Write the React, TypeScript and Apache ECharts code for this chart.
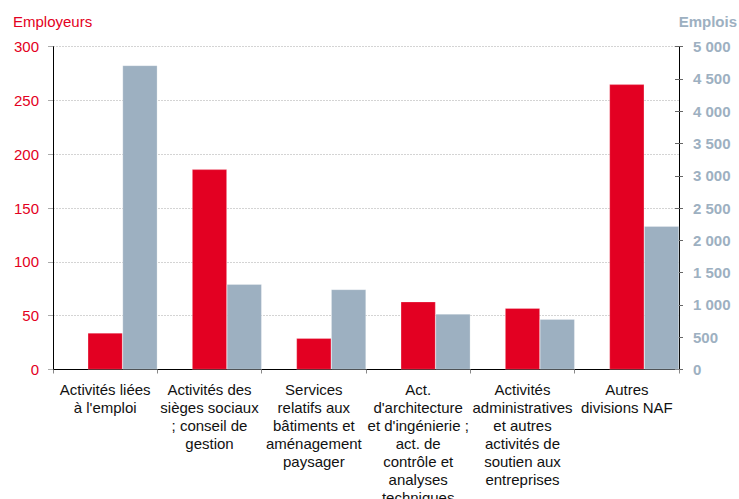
import React, { useEffect, useRef } from "react";
import * as echarts from "echarts";

const categories = [
  "Activités liées\nà l'emploi",
  "Activités des\nsièges sociaux\n; conseil de\ngestion",
  "Services\nrelatifs aux\nbâtiments et\naménagement\npaysager",
  "Act.\nd'architecture\net d'ingénierie ;\nact. de\ncontrôle et\nanalyses\ntechniques",
  "Activités\nadministratives\net autres\nactivités de\nsoutien aux\nentreprises",
  "Autres\ndivisions NAF",
];
const employeurs = [34, 186, 29, 63, 57, 265];
const emplois = [4710, 1320, 1240, 860, 780, 2220];
const spacer = [null, null, null, null, null, null];

const RED = "#E30022";
const GREY = "#9DB0C1";
const FONT = "'Liberation Sans', Arial, Helvetica, sans-serif";

export default function App() {
  const ref = useRef<HTMLDivElement>(null);
  useEffect(() => {
    if (!ref.current) return;
    const chart = echarts.init(ref.current, null, { renderer: "svg" });
    chart.setOption({
      animation: false,
      textStyle: { fontFamily: FONT },
      grid: {
        left: 53,
        right: 60,
        top: 46.7,
        height: 322.8,
        containLabel: false,
        outerBoundsMode: "none",
      },
      xAxis: {
        type: "category",
        data: categories,
        axisLine: { show: true, lineStyle: { color: "#000", width: 1 } },
        axisTick: { show: true, length: 4, lineStyle: { color: "#888" } },
        axisLabel: {
          interval: 0,
          color: "#111",
          fontSize: 15,
          lineHeight: 18,
          margin: 11,
          fontFamily: FONT,
          align: "center",
        },
      },
      yAxis: [
        {
          type: "value",
          min: 0,
          max: 300,
          interval: 50,
          position: "left",
          axisLine: { show: true, lineStyle: { color: "#000", width: 1 } },
          axisTick: { show: true, length: 5, lineStyle: { color: "#aaa" } },
          axisLabel: { color: RED, fontSize: 15, margin: 14, fontFamily: FONT },
          splitLine: { show: true, lineStyle: { color: "#d4d4d4", type: [2, 1], width: 1 } },
        },
        {
          type: "value",
          min: 0,
          max: 5000,
          interval: 500,
          position: "right",
          axisLine: { show: true, lineStyle: { color: "#000", width: 1 } },
          axisTick: { show: true, length: 4, lineStyle: { color: "#666" } },
          axisLabel: {
            color: GREY,
            fontSize: 15,
            fontWeight: "bold",
            margin: 14,
            fontFamily: FONT,
            formatter: (v: number) => String(v).replace(/\B(?=(\d{3})+(?!\d))/g, " "),
          },
          splitLine: { show: false },
        },
        {
          type: "value",
          min: 0,
          max: 5000,
          interval: 500,
          position: "right",
          axisLine: { show: false },
          axisTick: { show: true, inside: true, length: 4, lineStyle: { color: "#666" } },
          axisLabel: { show: false },
          splitLine: { show: false },
        },
      ],
      series: [
        {
          type: "bar",
          name: "spacer",
          data: spacer,
          yAxisIndex: 0,
          barGap: "0%",
          barCategoryGap: "0%",
          itemStyle: { color: "transparent" },
          silent: true,
        },
        {
          type: "bar",
          name: "Employeurs",
          data: employeurs,
          yAxisIndex: 0,
          barGap: "0%",
          barCategoryGap: "0%",
          itemStyle: { color: RED, borderColor: "rgba(255,255,255,0.5)", borderWidth: 0.5 },
        },
        {
          type: "bar",
          name: "Emplois",
          data: emplois,
          yAxisIndex: 1,
          barGap: "0%",
          barCategoryGap: "0%",
          itemStyle: { color: GREY, borderColor: "rgba(255,255,255,0.5)", borderWidth: 0.5 },
        },
      ],
      graphic: [
        {
          type: "text",
          left: 13,
          top: 14,
          style: { text: "Employeurs", fill: RED, fontSize: 15, fontFamily: FONT },
        },
        {
          type: "text",
          right: 2,
          top: 14,
          style: { text: "Emplois", fill: GREY, fontSize: 15, fontWeight: "bold", fontFamily: FONT },
        },
      ],
    });
    return () => chart.dispose();
  }, []);
  return (
    <div
      ref={ref}
      style={{ position: "fixed", left: 0, top: 0, width: 739, height: 499, background: "#fff" }}
    />
  );
}
